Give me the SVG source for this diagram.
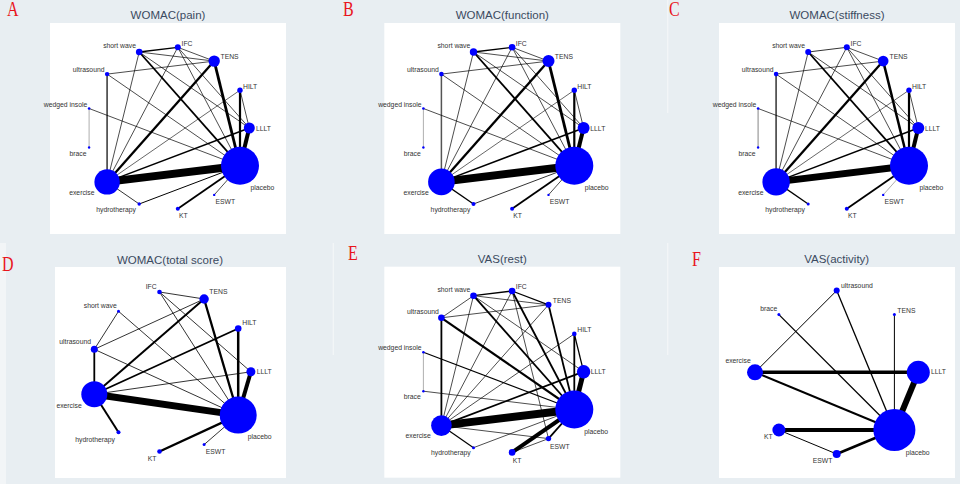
<svg xmlns="http://www.w3.org/2000/svg" width="960" height="484" viewBox="0 0 960 484">
<style>
.bg{fill:#e8eef2}
.pn{fill:#ffffff}
.t{font-family:"Liberation Sans",Arial,sans-serif;font-size:11.5px;fill:#3b4a5f;text-anchor:middle}
.l{font-family:"Liberation Sans",Arial,sans-serif;font-size:6.8px;fill:#333333}
.r{text-anchor:end}
.let{font-family:"Liberation Serif","Times New Roman",serif;font-size:20px;fill:#e8141c}
.e{stroke:#000000;fill:none}
.g1{stroke:#555555}
.g2{stroke:#9a9a9a}
.n{fill:#0000ff}
.sep{stroke:#f3f6f8;stroke-width:1.2}
</style>
<rect class="bg" x="0" y="0" width="960" height="484"/>
<rect x="0" y="243" width="6" height="241" fill="#f2f5f7"/>
<line class="sep" x1="667.7" y1="0" x2="667.7" y2="113"/>
<line class="sep" x1="333.3" y1="243" x2="333.3" y2="355"/>
<line class="sep" x1="667.7" y1="243" x2="667.7" y2="355"/>

<!-- panel letters -->
<g transform="scale(0.8 1)">
<text class="let" x="8.75" y="16">A</text>
<text class="let" x="428.75" y="16">B</text>
<text class="let" x="836.25" y="16">C</text>
<text class="let" x="2.5" y="271.5">D</text>
<text class="let" x="435" y="260">E</text>
<text class="let" x="865" y="266.5">F</text>
</g>

<!-- ================= Panel A ================= -->
<g id="panelA">
<rect class="pn" x="50" y="23" width="236" height="211"/>
<text class="t" x="168" y="19">WOMAC(pain)</text>
<g id="A-connectors" class="e">
<line x1="139.2" y1="52" x2="177.8" y2="47.3" stroke-width="1.3"/>
<line x1="139.2" y1="52" x2="214.2" y2="61.1" stroke-width="0.7"/>
<line x1="177.8" y1="47.3" x2="214.2" y2="61.1" stroke-width="0.7"/>
<line x1="139.2" y1="52" x2="240" y2="165.8" stroke-width="1.8"/>
<line x1="139.2" y1="52" x2="107.1" y2="181.9" stroke-width="0.7"/>
<line x1="139.2" y1="52" x2="249.3" y2="128" stroke-width="0.7"/>
<line x1="177.8" y1="47.3" x2="107.1" y2="181.9" stroke-width="0.7"/>
<line x1="177.8" y1="47.3" x2="240" y2="165.8" stroke-width="0.7"/>
<line x1="177.8" y1="47.3" x2="249.3" y2="128" stroke-width="0.7"/>
<line x1="214.2" y1="61.1" x2="107.1" y2="181.9" stroke-width="2.3"/>
<line x1="214.2" y1="61.1" x2="240" y2="165.8" stroke-width="2.8"/>
<line x1="107.1" y1="74.1" x2="214.2" y2="61.1" stroke-width="0.7"/>
<line class="g1" x1="107.1" y1="74.1" x2="107.1" y2="181.9" stroke-width="1.8"/>
<line x1="107.1" y1="74.1" x2="240" y2="165.8" stroke-width="0.7"/>
<line x1="240" y1="90.2" x2="107.1" y2="181.9" stroke-width="0.6"/>
<line x1="240" y1="90.2" x2="249.3" y2="128" stroke-width="0.7"/>
<line x1="240" y1="90.2" x2="240" y2="165.8" stroke-width="2.2"/>
<line class="g2" x1="89.1" y1="108.5" x2="89.1" y2="147.5" stroke-width="0.8"/>
<line x1="89.1" y1="108.5" x2="240" y2="165.8" stroke-width="0.7"/>
<line x1="249.3" y1="128" x2="240" y2="165.8" stroke-width="4"/>
<line x1="249.3" y1="128" x2="107.1" y2="181.9" stroke-width="1.5"/>
<line x1="107.1" y1="181.9" x2="240" y2="165.8" stroke-width="8"/>
<line x1="107.1" y1="181.9" x2="139.2" y2="204" stroke-width="0.8"/>
<line x1="139.2" y1="204" x2="240" y2="165.8" stroke-width="1"/>
<line x1="177.8" y1="208.7" x2="240" y2="165.8" stroke-width="1.8"/>
<line x1="214.2" y1="194.9" x2="240" y2="165.8" stroke-width="0.7"/>
</g>
<g id="A-shortwave"><circle class="n" cx="139.2" cy="52" r="3.3"/><text class="l r" x="136" y="48.3">short wave</text></g>
<g id="A-IFC"><circle class="n" cx="177.8" cy="47.3" r="3"/><text class="l" x="181.5" y="45.5">IFC</text></g>
<g id="A-TENS"><circle class="n" cx="214.2" cy="61.1" r="5.7"/><text class="l" x="220.5" y="58.5">TENS</text></g>
<g id="A-ultrasound"><circle class="n" cx="107.1" cy="74.1" r="2.2"/><text class="l r" x="104.5" y="71.5">ultrasound</text></g>
<g id="A-HILT"><circle class="n" cx="240" cy="90.2" r="2.7"/><text class="l" x="243" y="88.5">HILT</text></g>
<g id="A-wedgedinsole"><circle class="n" cx="89.1" cy="108.5" r="1.3"/><text class="l r" x="87.3" y="106.5">wedged insole</text></g>
<g id="A-LLLT"><circle class="n" cx="249.3" cy="128" r="5.5"/><text class="l" x="256" y="130.5">LLLT</text></g>
<g id="A-brace"><circle class="n" cx="89.1" cy="147.5" r="1.2"/><text class="l r" x="86.5" y="155.5">brace</text></g>
<g id="A-placebo"><circle class="n" cx="240" cy="165.8" r="19"/><text class="l" x="250.5" y="190">placebo</text></g>
<g id="A-exercise"><circle class="n" cx="107.1" cy="181.9" r="12.7"/><text class="l r" x="94.5" y="195">exercise</text></g>
<g id="A-hydrotherapy"><circle class="n" cx="139.2" cy="204" r="1.7"/><text class="l r" x="136" y="212">hydrotherapy</text></g>
<g id="A-KT"><circle class="n" cx="177.8" cy="208.7" r="2"/><text class="l" x="179" y="218">KT</text></g>
<g id="A-ESWT"><circle class="n" cx="214.2" cy="194.9" r="1.2"/><text class="l" x="215.5" y="203.5">ESWT</text></g>
</g>

<!-- ================= Panel B ================= -->
<g id="panelB" transform="translate(334.3 0)">
<rect class="pn" x="50" y="23" width="236" height="211"/>
<text class="t" x="168" y="19">WOMAC(function)</text>
<g id="B-connectors" class="e">
<line x1="139.2" y1="52" x2="177.8" y2="47.3" stroke-width="1.3"/>
<line x1="139.2" y1="52" x2="214.2" y2="61.1" stroke-width="0.7"/>
<line x1="177.8" y1="47.3" x2="214.2" y2="61.1" stroke-width="0.7"/>
<line x1="139.2" y1="52" x2="240" y2="165.8" stroke-width="1.8"/>
<line x1="139.2" y1="52" x2="107.1" y2="181.9" stroke-width="0.7"/>
<line x1="139.2" y1="52" x2="249.3" y2="128" stroke-width="0.7"/>
<line x1="177.8" y1="47.3" x2="107.1" y2="181.9" stroke-width="0.7"/>
<line x1="177.8" y1="47.3" x2="240" y2="165.8" stroke-width="0.7"/>
<line x1="177.8" y1="47.3" x2="249.3" y2="128" stroke-width="0.7"/>
<line x1="214.2" y1="61.1" x2="107.1" y2="181.9" stroke-width="2.3"/>
<line x1="214.2" y1="61.1" x2="240" y2="165.8" stroke-width="2.8"/>
<line x1="107.1" y1="74.1" x2="214.2" y2="61.1" stroke-width="0.7"/>
<line class="g1" x1="107.1" y1="74.1" x2="107.1" y2="181.9" stroke-width="1.5"/>
<line x1="107.1" y1="74.1" x2="240" y2="165.8" stroke-width="0.7"/>
<line x1="240" y1="90.2" x2="107.1" y2="181.9" stroke-width="0.6"/>
<line x1="240" y1="90.2" x2="249.3" y2="128" stroke-width="0.7"/>
<line x1="240" y1="90.2" x2="240" y2="165.8" stroke-width="2.2"/>
<line class="g2" x1="89.1" y1="108.5" x2="89.1" y2="147.5" stroke-width="0.8"/>
<line x1="89.1" y1="108.5" x2="240" y2="165.8" stroke-width="0.7"/>
<line x1="249.3" y1="128" x2="240" y2="165.8" stroke-width="4"/>
<line x1="249.3" y1="128" x2="107.1" y2="181.9" stroke-width="1.5"/>
<line x1="107.1" y1="181.9" x2="240" y2="165.8" stroke-width="8"/>
<line x1="107.1" y1="181.9" x2="139.2" y2="204" stroke-width="1.3"/>
<line x1="139.2" y1="204" x2="240" y2="165.8" stroke-width="0.8"/>
<line x1="177.8" y1="208.7" x2="240" y2="165.8" stroke-width="1.8"/>
<line x1="214.2" y1="194.9" x2="240" y2="165.8" stroke-width="0.7"/>
</g>
<g id="B-shortwave"><circle class="n" cx="139.2" cy="52" r="3.7"/><text class="l r" x="136" y="48.3">short wave</text></g>
<g id="B-IFC"><circle class="n" cx="177.8" cy="47.3" r="3.3"/><text class="l" x="181.5" y="45.5">IFC</text></g>
<g id="B-TENS"><circle class="n" cx="214.2" cy="61.1" r="6"/><text class="l" x="220.5" y="58.5">TENS</text></g>
<g id="B-ultrasound"><circle class="n" cx="107.1" cy="74.1" r="2.3"/><text class="l r" x="104.5" y="71.5">ultrasound</text></g>
<g id="B-HILT"><circle class="n" cx="240" cy="90.2" r="2.7"/><text class="l" x="243" y="88.5">HILT</text></g>
<g id="B-wedgedinsole"><circle class="n" cx="89.1" cy="108.5" r="1.3"/><text class="l r" x="87.3" y="106.5">wedged insole</text></g>
<g id="B-LLLT"><circle class="n" cx="249.3" cy="128" r="6"/><text class="l" x="256" y="130.5">LLLT</text></g>
<g id="B-brace"><circle class="n" cx="89.1" cy="147.5" r="1.2"/><text class="l r" x="86.5" y="155.5">brace</text></g>
<g id="B-placebo"><circle class="n" cx="240" cy="165.8" r="19"/><text class="l" x="250.5" y="190">placebo</text></g>
<g id="B-exercise"><circle class="n" cx="107.1" cy="181.9" r="13.3"/><text class="l r" x="94.5" y="195">exercise</text></g>
<g id="B-hydrotherapy"><circle class="n" cx="139.2" cy="204" r="2"/><text class="l r" x="136" y="212">hydrotherapy</text></g>
<g id="B-KT"><circle class="n" cx="177.8" cy="208.7" r="2"/><text class="l" x="179" y="218">KT</text></g>
<g id="B-ESWT"><circle class="n" cx="214.2" cy="194.9" r="1.2"/><text class="l" x="215.5" y="203.5">ESWT</text></g>
</g>

<!-- ================= Panel C ================= -->
<g id="panelC" transform="translate(669 0)">
<rect class="pn" x="50" y="23" width="236" height="211"/>
<text class="t" x="168" y="19">WOMAC(stiffness)</text>
<g id="C-connectors" class="e">
<line x1="139.2" y1="52" x2="177.8" y2="47.3" stroke-width="0.8"/>
<line x1="177.8" y1="47.3" x2="214.2" y2="61.1" stroke-width="0.7"/>
<line x1="139.2" y1="52" x2="240" y2="165.8" stroke-width="1.8"/>
<line x1="139.2" y1="52" x2="107.1" y2="181.9" stroke-width="0.7"/>
<line x1="139.2" y1="52" x2="249.3" y2="128" stroke-width="0.7"/>
<line x1="177.8" y1="47.3" x2="107.1" y2="181.9" stroke-width="0.7"/>
<line x1="177.8" y1="47.3" x2="240" y2="165.8" stroke-width="0.7"/>
<line x1="177.8" y1="47.3" x2="249.3" y2="128" stroke-width="0.7"/>
<line x1="214.2" y1="61.1" x2="107.1" y2="181.9" stroke-width="2.3"/>
<line x1="214.2" y1="61.1" x2="240" y2="165.8" stroke-width="2.5"/>
<line x1="107.1" y1="74.1" x2="214.2" y2="61.1" stroke-width="0.7"/>
<line class="g1" x1="107.1" y1="74.1" x2="107.1" y2="181.9" stroke-width="1.8"/>
<line x1="107.1" y1="74.1" x2="240" y2="165.8" stroke-width="0.7"/>
<line x1="240" y1="90.2" x2="107.1" y2="181.9" stroke-width="0.6"/>
<line x1="240" y1="90.2" x2="249.3" y2="128" stroke-width="0.7"/>
<line x1="240" y1="90.2" x2="240" y2="165.8" stroke-width="2.2"/>
<line class="g2" x1="89.1" y1="108.5" x2="89.1" y2="147.5" stroke-width="1.2"/>
<line x1="89.1" y1="108.5" x2="240" y2="165.8" stroke-width="0.7"/>
<line x1="249.3" y1="128" x2="240" y2="165.8" stroke-width="4"/>
<line x1="249.3" y1="128" x2="107.1" y2="181.9" stroke-width="1.5"/>
<line x1="107.1" y1="181.9" x2="240" y2="165.8" stroke-width="7"/>
<line x1="107.1" y1="181.9" x2="139.2" y2="204" stroke-width="1.3"/>
<line x1="177.8" y1="208.7" x2="240" y2="165.8" stroke-width="1.8"/>
<line class="g2" x1="214.2" y1="194.9" x2="240" y2="165.8" stroke-width="0.8"/>
</g>
<g id="C-shortwave"><circle class="n" cx="139.2" cy="52" r="3"/><text class="l r" x="136" y="48.3">short wave</text></g>
<g id="C-IFC"><circle class="n" cx="177.8" cy="47.3" r="3"/><text class="l" x="181.5" y="45.5">IFC</text></g>
<g id="C-TENS"><circle class="n" cx="214.2" cy="61.1" r="5.3"/><text class="l" x="220.5" y="58.5">TENS</text></g>
<g id="C-ultrasound"><circle class="n" cx="107.1" cy="74.1" r="2.3"/><text class="l r" x="104.5" y="71.5">ultrasound</text></g>
<g id="C-HILT"><circle class="n" cx="240" cy="90.2" r="2.7"/><text class="l" x="243" y="88.5">HILT</text></g>
<g id="C-wedgedinsole"><circle class="n" cx="89.1" cy="108.5" r="1.3"/><text class="l r" x="87.3" y="106.5">wedged insole</text></g>
<g id="C-LLLT"><circle class="n" cx="249.3" cy="128" r="6"/><text class="l" x="256" y="130.5">LLLT</text></g>
<g id="C-brace"><circle class="n" cx="89.1" cy="147.5" r="1.2"/><text class="l r" x="86.5" y="155.5">brace</text></g>
<g id="C-placebo"><circle class="n" cx="240" cy="165.8" r="19"/><text class="l" x="250.5" y="190">placebo</text></g>
<g id="C-exercise"><circle class="n" cx="107.1" cy="181.9" r="13.7"/><text class="l r" x="94.5" y="195">exercise</text></g>
<g id="C-hydrotherapy"><circle class="n" cx="139.2" cy="204" r="1.5"/><text class="l r" x="136" y="212">hydrotherapy</text></g>
<g id="C-KT"><circle class="n" cx="177.8" cy="208.7" r="2"/><text class="l" x="179" y="218">KT</text></g>
<g id="C-ESWT"><circle class="n" cx="214.2" cy="194.9" r="1.2"/><text class="l" x="215.5" y="203.5">ESWT</text></g>
</g>

<!-- ================= Panel D ================= -->
<g id="panelD">
<rect class="pn" x="55" y="267" width="231" height="211"/>
<text class="t" x="170" y="263.5">WOMAC(total score)</text>
<g id="D-connectors" class="e">
<line x1="159.5" y1="292" x2="204.1" y2="299" stroke-width="0.8"/>
<line x1="159.5" y1="292" x2="238.2" y2="415.1" stroke-width="0.8"/>
<line x1="159.5" y1="292" x2="250.9" y2="371.8" stroke-width="0.8"/>
<line x1="204.1" y1="299" x2="94.3" y2="349.3" stroke-width="0.8"/>
<line x1="204.1" y1="299" x2="94.3" y2="394.3" stroke-width="2"/>
<line x1="204.1" y1="299" x2="238.2" y2="415.1" stroke-width="2.3"/>
<line x1="118.5" y1="311.3" x2="94.3" y2="349.3" stroke-width="0.8"/>
<line x1="118.5" y1="311.3" x2="238.2" y2="415.1" stroke-width="0.8"/>
<line x1="238.2" y1="328.5" x2="94.3" y2="394.3" stroke-width="1.8"/>
<line x1="238.2" y1="328.5" x2="238.2" y2="415.1" stroke-width="2.5"/>
<line x1="94.3" y1="349.3" x2="94.3" y2="394.3" stroke-width="1.8"/>
<line x1="94.3" y1="349.3" x2="238.2" y2="415.1" stroke-width="0.8"/>
<line x1="250.9" y1="371.8" x2="94.3" y2="394.3" stroke-width="0.8"/>
<line x1="250.9" y1="371.8" x2="238.2" y2="415.1" stroke-width="4"/>
<line x1="94.3" y1="394.3" x2="238.2" y2="415.1" stroke-width="7"/>
<line x1="94.3" y1="394.3" x2="118.5" y2="432.3" stroke-width="2"/>
<line x1="159.5" y1="451.5" x2="238.2" y2="415.1" stroke-width="2.3"/>
<line x1="204.1" y1="444.6" x2="238.2" y2="415.1" stroke-width="0.8"/>
</g>
<g id="D-IFC"><circle class="n" cx="159.5" cy="292" r="2.3"/><text class="l r" x="156.7" y="289.3">IFC</text></g>
<g id="D-TENS"><circle class="n" cx="204.1" cy="299" r="4.7"/><text class="l" x="209.3" y="294.3">TENS</text></g>
<g id="D-shortwave"><circle class="n" cx="118.5" cy="311.3" r="1.5"/><text class="l r" x="116.7" y="307.7">short wave</text></g>
<g id="D-HILT"><circle class="n" cx="238.2" cy="328.5" r="3.3"/><text class="l" x="242.3" y="325.3">HILT</text></g>
<g id="D-ultrasound"><circle class="n" cx="94.3" cy="349.3" r="3.5"/><text class="l r" x="91" y="344.3">ultrasound</text></g>
<g id="D-LLLT"><circle class="n" cx="250.9" cy="371.8" r="4.5"/><text class="l" x="256.7" y="374.3">LLLT</text></g>
<g id="D-exercise"><circle class="n" cx="94.3" cy="394.3" r="13"/><text class="l r" x="81.7" y="408.3">exercise</text></g>
<g id="D-placebo"><circle class="n" cx="238.2" cy="415.1" r="18.5"/><text class="l" x="247.7" y="439.3">placebo</text></g>
<g id="D-hydrotherapy"><circle class="n" cx="118.5" cy="432.3" r="2"/><text class="l r" x="115" y="441.7">hydrotherapy</text></g>
<g id="D-KT"><circle class="n" cx="159.5" cy="451.5" r="2.3"/><text class="l" x="147.7" y="460.7">KT</text></g>
<g id="D-ESWT"><circle class="n" cx="204.1" cy="444.6" r="1.5"/><text class="l" x="205.7" y="454">ESWT</text></g>
</g>

<!-- ================= Panel E ================= -->
<g id="panelE" transform="translate(334.3 243.7)">
<rect class="pn" x="50" y="23" width="236" height="211"/>
<text class="t" x="168" y="19.6">VAS(rest)</text>
<g id="E-connectors" class="e">
<line x1="139.2" y1="52" x2="177.8" y2="47.3" stroke-width="1.3"/>
<line x1="139.2" y1="52" x2="214.2" y2="61.1" stroke-width="0.7"/>
<line x1="177.8" y1="47.3" x2="214.2" y2="61.1" stroke-width="1.3"/>
<line x1="107.1" y1="74.1" x2="139.2" y2="52" stroke-width="0.7"/>
<line x1="107.1" y1="74.1" x2="214.2" y2="61.1" stroke-width="0.7"/>
<line x1="139.2" y1="52" x2="240" y2="165.8" stroke-width="1.8"/>
<line x1="139.2" y1="52" x2="107.1" y2="181.9" stroke-width="0.7"/>
<line x1="139.2" y1="52" x2="249.3" y2="128" stroke-width="0.7"/>
<line x1="177.8" y1="47.3" x2="107.1" y2="181.9" stroke-width="0.7"/>
<line x1="177.8" y1="47.3" x2="240" y2="165.8" stroke-width="1.8"/>
<line x1="177.8" y1="47.3" x2="214.2" y2="194.9" stroke-width="0.7"/>
<line x1="214.2" y1="61.1" x2="240" y2="165.8" stroke-width="1.8"/>
<line x1="214.2" y1="61.1" x2="107.1" y2="181.9" stroke-width="0.7"/>
<line x1="107.1" y1="74.1" x2="107.1" y2="181.9" stroke-width="1.8"/>
<line x1="107.1" y1="74.1" x2="240" y2="165.8" stroke-width="2.2"/>
<line x1="240" y1="90.2" x2="249.3" y2="128" stroke-width="1.3"/>
<line x1="240" y1="90.2" x2="240" y2="165.8" stroke-width="1.8"/>
<line x1="240" y1="90.2" x2="107.1" y2="181.9" stroke-width="0.7"/>
<line class="g2" x1="89.1" y1="108.5" x2="89.1" y2="147.5" stroke-width="0.8"/>
<line x1="89.1" y1="108.5" x2="240" y2="165.8" stroke-width="1.2"/>
<line x1="89.1" y1="147.5" x2="240" y2="165.8" stroke-width="0.7"/>
<line x1="249.3" y1="128" x2="240" y2="165.8" stroke-width="5"/>
<line x1="249.3" y1="128" x2="107.1" y2="181.9" stroke-width="1.8"/>
<line x1="107.1" y1="181.9" x2="240" y2="165.8" stroke-width="8"/>
<line x1="107.1" y1="181.9" x2="139.2" y2="204" stroke-width="1.2"/>
<line x1="107.1" y1="181.9" x2="214.2" y2="194.9" stroke-width="0.7"/>
<line x1="139.2" y1="204" x2="240" y2="165.8" stroke-width="0.7"/>
<line x1="177.8" y1="208.7" x2="240" y2="165.8" stroke-width="4"/>
<line x1="177.8" y1="208.7" x2="214.2" y2="194.9" stroke-width="0.7"/>
<line x1="214.2" y1="194.9" x2="240" y2="165.8" stroke-width="1.8"/>
</g>
<g id="E-shortwave"><circle class="n" cx="139.2" cy="52" r="3.3"/><text class="l r" x="136" y="48.3">short wave</text></g>
<g id="E-IFC"><circle class="n" cx="177.8" cy="47.3" r="3.3"/><text class="l" x="181.5" y="45.5">IFC</text></g>
<g id="E-TENS"><circle class="n" cx="214.2" cy="61.1" r="3"/><text class="l" x="218.5" y="59.5">TENS</text></g>
<g id="E-ultrasound"><circle class="n" cx="107.1" cy="74.1" r="3.3"/><text class="l r" x="104.5" y="70.5">ultrasound</text></g>
<g id="E-HILT"><circle class="n" cx="240" cy="90.2" r="2.3"/><text class="l" x="243" y="88.5">HILT</text></g>
<g id="E-wedgedinsole"><circle class="n" cx="89.1" cy="108.5" r="1.3"/><text class="l r" x="87.3" y="106.5">wedged insole</text></g>
<g id="E-LLLT"><circle class="n" cx="249.3" cy="128" r="6.7"/><text class="l" x="256.4" y="130.5">LLLT</text></g>
<g id="E-brace"><circle class="n" cx="89.1" cy="147.5" r="1.2"/><text class="l r" x="86.5" y="155">brace</text></g>
<g id="E-placebo"><circle class="n" cx="240" cy="165.8" r="19"/><text class="l" x="250" y="190">placebo</text></g>
<g id="E-exercise"><circle class="n" cx="107.1" cy="181.9" r="10.3"/><text class="l r" x="96.5" y="194.5">exercise</text></g>
<g id="E-hydrotherapy"><circle class="n" cx="139.2" cy="204" r="1.5"/><text class="l r" x="136.4" y="211.5">hydrotherapy</text></g>
<g id="E-KT"><circle class="n" cx="177.8" cy="208.7" r="3.3"/><text class="l" x="178.4" y="219">KT</text></g>
<g id="E-ESWT"><circle class="n" cx="214.2" cy="194.9" r="2.7"/><text class="l" x="215.7" y="205.6">ESWT</text></g>
</g>

<!-- ================= Panel F ================= -->
<g id="panelF">
<rect class="pn" x="719" y="267" width="236" height="211"/>
<text class="t" x="836.7" y="263.3">VAS(activity)</text>
<g id="F-connectors" class="e">
<line x1="836.7" y1="290.6" x2="755" y2="372.3" stroke-width="1"/>
<line x1="836.7" y1="290.6" x2="894.4" y2="430" stroke-width="1.3"/>
<line x1="778.9" y1="314.6" x2="894.4" y2="430" stroke-width="1.3"/>
<line x1="894.4" y1="314.6" x2="894.4" y2="430" stroke-width="1"/>
<line x1="755" y1="372.3" x2="918.3" y2="372.3" stroke-width="3.4"/>
<line x1="755" y1="372.3" x2="894.4" y2="430" stroke-width="2"/>
<line x1="918.3" y1="372.3" x2="894.4" y2="430" stroke-width="6"/>
<line x1="778.9" y1="430" x2="894.4" y2="430" stroke-width="4"/>
<line x1="778.9" y1="430" x2="836.7" y2="454" stroke-width="1"/>
<line x1="836.7" y1="454" x2="894.4" y2="430" stroke-width="2.6"/>
</g>
<g id="F-ultrasound"><circle class="n" cx="836.7" cy="290.6" r="3"/><text class="l" x="841" y="288.3">ultrasound</text></g>
<g id="F-brace"><circle class="n" cx="778.9" cy="314.6" r="1.5"/><text class="l r" x="777.3" y="311">brace</text></g>
<g id="F-TENS"><circle class="n" cx="894.4" cy="314.6" r="1.5"/><text class="l" x="897.3" y="312.7">TENS</text></g>
<g id="F-exercise"><circle class="n" cx="755" cy="372.3" r="8"/><text class="l r" x="750.7" y="363.3">exercise</text></g>
<g id="F-LLLT"><circle class="n" cx="918.3" cy="372.3" r="11.5"/><text class="l" x="931" y="374.3">LLLT</text></g>
<g id="F-KT"><circle class="n" cx="778.9" cy="430" r="6.5"/><text class="l r" x="772.7" y="439.3">KT</text></g>
<g id="F-placebo"><circle class="n" cx="894.4" cy="430" r="21"/><text class="l" x="905.7" y="455">placebo</text></g>
<g id="F-ESWT"><circle class="n" cx="836.7" cy="454" r="4"/><text class="l r" x="832.3" y="462.7">ESWT</text></g>
</g>
</svg>
